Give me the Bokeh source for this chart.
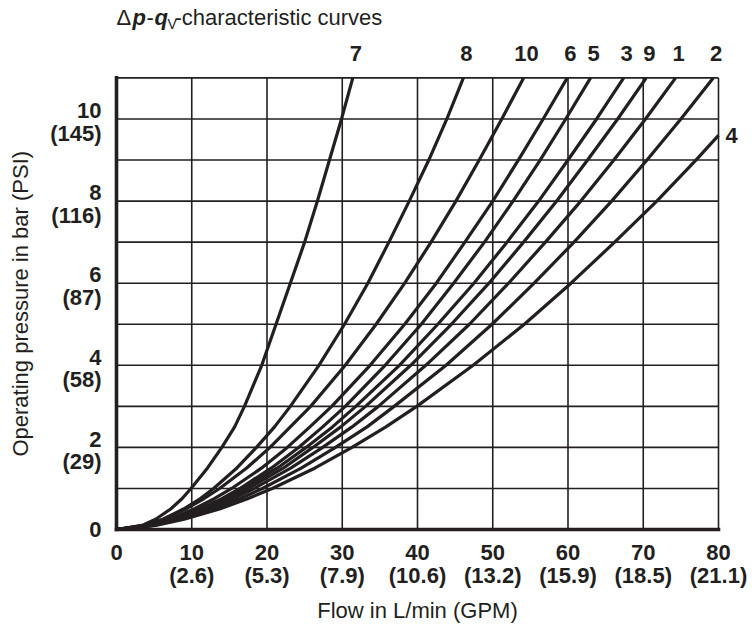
from bokeh.plotting import figure
from bokeh.models import Range1d, FixedTicker, LinearAxis
from bokeh.core.properties import value
from bokeh.embed import file_html
from bokeh.resources import INLINE

INK = "#231f20"
FONT = "Liberation Sans"

# ---- data ----
# pressure (bar) levels at which the flow (L/min) of each curve was read
pressure_levels = [0, 0.1, 0.25, 0.5, 0.75, 1, 1.5, 2, 2.5, 3, 4, 5, 6, 7, 8, 9, 10, 11]
flow_7 = [0, 3.4, 5.2, 7.2, 8.7, 9.9, 12.1, 14.0, 15.7, 17.0, 19.3, 21.2, 23.1, 25.0, 26.7, 28.3, 29.9, 31.4]
flow_8 = [0, 3.8, 6.2, 8.9, 11.1, 12.9, 16.0, 18.6, 21.0, 23.1, 26.9, 30.3, 33.4, 36.2, 38.9, 41.5, 43.9, 46.1]
flow_10 = [0, 3.7, 6.2, 9.2, 11.6, 13.7, 17.3, 20.4, 23.1, 25.8, 30.4, 34.5, 38.3, 41.8, 45.1, 48.2, 51.2, 54.1]
flow_6 = [0, 4.1, 7.0, 10.3, 13.0, 15.3, 19.3, 22.7, 25.7, 28.6, 33.7, 38.3, 42.5, 46.3, 50.0, 53.4, 56.7, 59.9]
flow_5 = [0, 4.5, 7.5, 11.1, 14.0, 16.4, 20.6, 24.2, 27.4, 30.4, 35.7, 40.5, 44.8, 48.9, 52.7, 56.3, 59.7, 63.0]
flow_3 = [0, 4.5, 7.6, 11.3, 14.3, 16.9, 21.4, 25.2, 28.7, 31.8, 37.6, 42.7, 47.5, 51.9, 56.1, 60.0, 63.8, 67.4]
flow_9 = [0, 4.6, 7.8, 11.7, 14.8, 17.5, 22.2, 26.1, 29.8, 33.1, 39.1, 44.5, 49.5, 54.1, 58.5, 62.6, 66.6, 70.4]
flow_1 = [0, 4.8, 8.1, 12.2, 15.5, 18.3, 23.2, 27.4, 31.3, 34.8, 41.1, 46.9, 52.1, 57.0, 61.7, 66.1, 70.3, 74.3]
flow_2 = [0, 5.0, 8.6, 12.9, 16.4, 19.4, 24.6, 29.1, 33.3, 36.9, 43.8, 49.9, 55.5, 60.8, 65.8, 70.5, 75.0, 79.3]
pressure_4 = [0, 0.1, 0.25, 0.5, 0.75, 1, 1.5, 2, 2.5, 3, 4, 5, 6, 7, 8, 9, 9.6]
flow_4 = [0, 5.2, 9.0, 13.7, 17.4, 20.7, 26.4, 31.3, 35.8, 39.9, 47.4, 54.2, 60.4, 66.2, 71.8, 77.0, 80.0]

curve_names = ["7", "8", "10", "6", "5", "3", "9", "1", "2"]
curve_flows = [flow_7, flow_8, flow_10, flow_6, flow_5, flow_3, flow_9, flow_1, flow_2]

x_ticks = [0, 10, 20, 30, 40, 50, 60, 70, 80]
x_lpm_labels = ["0", "10", "20", "30", "40", "50", "60", "70", "80"]
x_gpm_labels = ["", "(2.6)", "(5.3)", "(7.9)", "(10.6)", "(13.2)", "(15.9)", "(18.5)", "(21.1)"]
y_ticks = [0, 2, 4, 6, 8, 10]
y_bar_labels = ["0", "2", "4", "6", "8", "10"]
y_psi_labels = ["", "(29)", "(58)", "(87)", "(116)", "(145)"]
y_grid = [1, 2, 3, 4, 5, 6, 7, 8, 9, 10, 11]
x_max, y_max = 80, 11
x_title = "Flow in L/min (GPM)"
y_title = "Operating pressure in bar (PSI)"

# ---- layout: chart box of the reference and the data -> pixel scale ----
W, H = 752, 625
BOX_L, BOX_R, BOX_T, BOX_B = 116, 718, 78, 533
PX_X = (BOX_R - BOX_L) / x_max
PX_Y = (BOX_B - BOX_T) / y_max
FRAME_L, FRAME_B = 112, 537          # frame slightly larger so thick axes are not clipped
X0 = -(BOX_L - FRAME_L) / PX_X
X1 = (W - BOX_L) / PX_X
Y0 = -(FRAME_B - BOX_B) / PX_Y
Y1 = BOX_B / PX_Y

TICK_SIZE = "22px"
TITLE_SIZE = "22px"


def y_at(page_y):
    return (BOX_B - page_y) / PX_Y


p = figure(width=W, height=H, output_backend="svg", toolbar_location=None,
           x_range=Range1d(X0, X1), y_range=Range1d(Y0, Y1),
           min_border_left=FRAME_L, min_border_right=0,
           min_border_top=0, min_border_bottom=H - FRAME_B)
p.background_fill_color = "white"
p.border_fill_color = "white"
p.outline_line_color = None
p.grid.visible = False


def style_axis(ax, bold=True, size=TICK_SIZE):
    ax.axis_line_color = None
    ax.major_tick_in = 0
    ax.major_tick_out = 0
    ax.minor_tick_in = 0
    ax.minor_tick_out = 0
    ax.minor_tick_line_color = None
    ax.major_tick_line_color = None
    ax.major_label_text_font = FONT
    ax.major_label_text_font_style = "bold" if bold else "normal"
    ax.major_label_text_font_size = size
    ax.major_label_text_color = INK


# ---- bottom: L/min line, GPM line, then the axis title ----
p.xaxis.ticker = FixedTicker(ticks=x_ticks)
p.xaxis.major_label_overrides = {tk: s for tk, s in zip(x_ticks, x_lpm_labels)}
style_axis(p.xaxis[0])
p.xaxis.major_label_standoff = 11

gpm_axis = LinearAxis(ticker=FixedTicker(ticks=x_ticks),
                      major_label_overrides={tk: s for tk, s in zip(x_ticks, x_gpm_labels)})
style_axis(gpm_axis)
gpm_axis.major_label_standoff = 0
p.add_layout(gpm_axis, "below")

x_mid = x_max / 2
xt_axis = LinearAxis(ticker=FixedTicker(ticks=[x_mid]),
                     major_label_overrides={x_mid: x_title})
style_axis(xt_axis, bold=False, size=TITLE_SIZE)
xt_axis.major_label_standoff = 7
p.add_layout(xt_axis, "below")

# ---- left: bar value above each grid line, PSI value below it ----
BAR_SHIFT = 0.20
PSI_SHIFT = 0.35
left_ticks = []
left_labels = {}
for tk, b, s in zip(y_ticks, y_bar_labels, y_psi_labels):
    if s:
        up = round(tk + BAR_SHIFT, 3)
        dn = round(tk - PSI_SHIFT, 3)
        left_ticks += [up, dn]
        left_labels[up] = b
        left_labels[dn] = s
    else:
        left_ticks.append(tk)
        left_labels[tk] = b
p.yaxis.ticker = FixedTicker(ticks=left_ticks)
p.yaxis.major_label_overrides = left_labels
style_axis(p.yaxis[0])
p.yaxis.major_label_standoff = 11

y_mid = y_max / 2
yt_axis = LinearAxis(ticker=FixedTicker(ticks=[y_mid]),
                     major_label_overrides={y_mid: y_title})
style_axis(yt_axis, bold=False, size=TITLE_SIZE)
yt_axis.major_label_orientation = "parallel"
yt_axis.major_label_standoff = 14
p.add_layout(yt_axis, "left")

# ---- grid, border and thick axes ----
vx = [tk for tk in x_ticks if tk > 0]
p.segment(x0=vx, y0=[0] * len(vx), x1=vx, y1=[y_max] * len(vx),
          line_color=INK, line_width=1.6)
p.segment(x0=[0] * len(y_grid), y0=y_grid, x1=[x_max] * len(y_grid), y1=y_grid,
          line_color=INK, line_width=1.6)
p.segment(x0=[0, 0], y0=[0, 0], x1=[0, x_max], y1=[y_max, 0],
          line_color=INK, line_width=3.6, line_cap="square")

# ---- curves ----
for flows in curve_flows:
    p.line(flows, pressure_levels, line_color=INK, line_width=3.2, line_join="round")
p.line(flow_4, pressure_4, line_color=INK, line_width=3.2, line_join="round")

# ---- curve numbers ----
label_y = y_at(53.5)
p.text(x=[f[-1] for f in curve_flows], y=[label_y] * len(curve_flows), text=curve_names,
       x_offset=3, text_align="center", text_baseline="middle",
       text_font=value(FONT), text_font_style="bold", text_font_size=TICK_SIZE,
       text_color=INK)
p.text(x=[flow_4[-1]], y=[pressure_4[-1]], text=["4"], x_offset=7,
       text_align="left", text_baseline="middle",
       text_font=value(FONT), text_font_style="bold", text_font_size=TICK_SIZE,
       text_color=INK)

# ---- title made of differently styled pieces ----
mid = y_at(17)
sub = y_at(24)
title_parts = [("\u0394", "normal", "22px", 0, mid),
               ("p", "bold italic", "22px", 16, mid),
               ("-", "normal", "22px", 30, mid),
               ("q", "bold italic", "22px", 38, mid),
               ("V", "normal", "14px", 51, sub),
               ("-characteristic curves", "normal", "22px", 58, mid)]
for txt, style, size, xo, yy in title_parts:
    p.text(x=[0], y=[yy], text=[txt], x_offset=xo,
           text_font=value(FONT), text_font_style=style, text_font_size=size,
           text_color=INK, text_align="left", text_baseline="middle")

open("out.html", "w").write(file_html(p, INLINE))
